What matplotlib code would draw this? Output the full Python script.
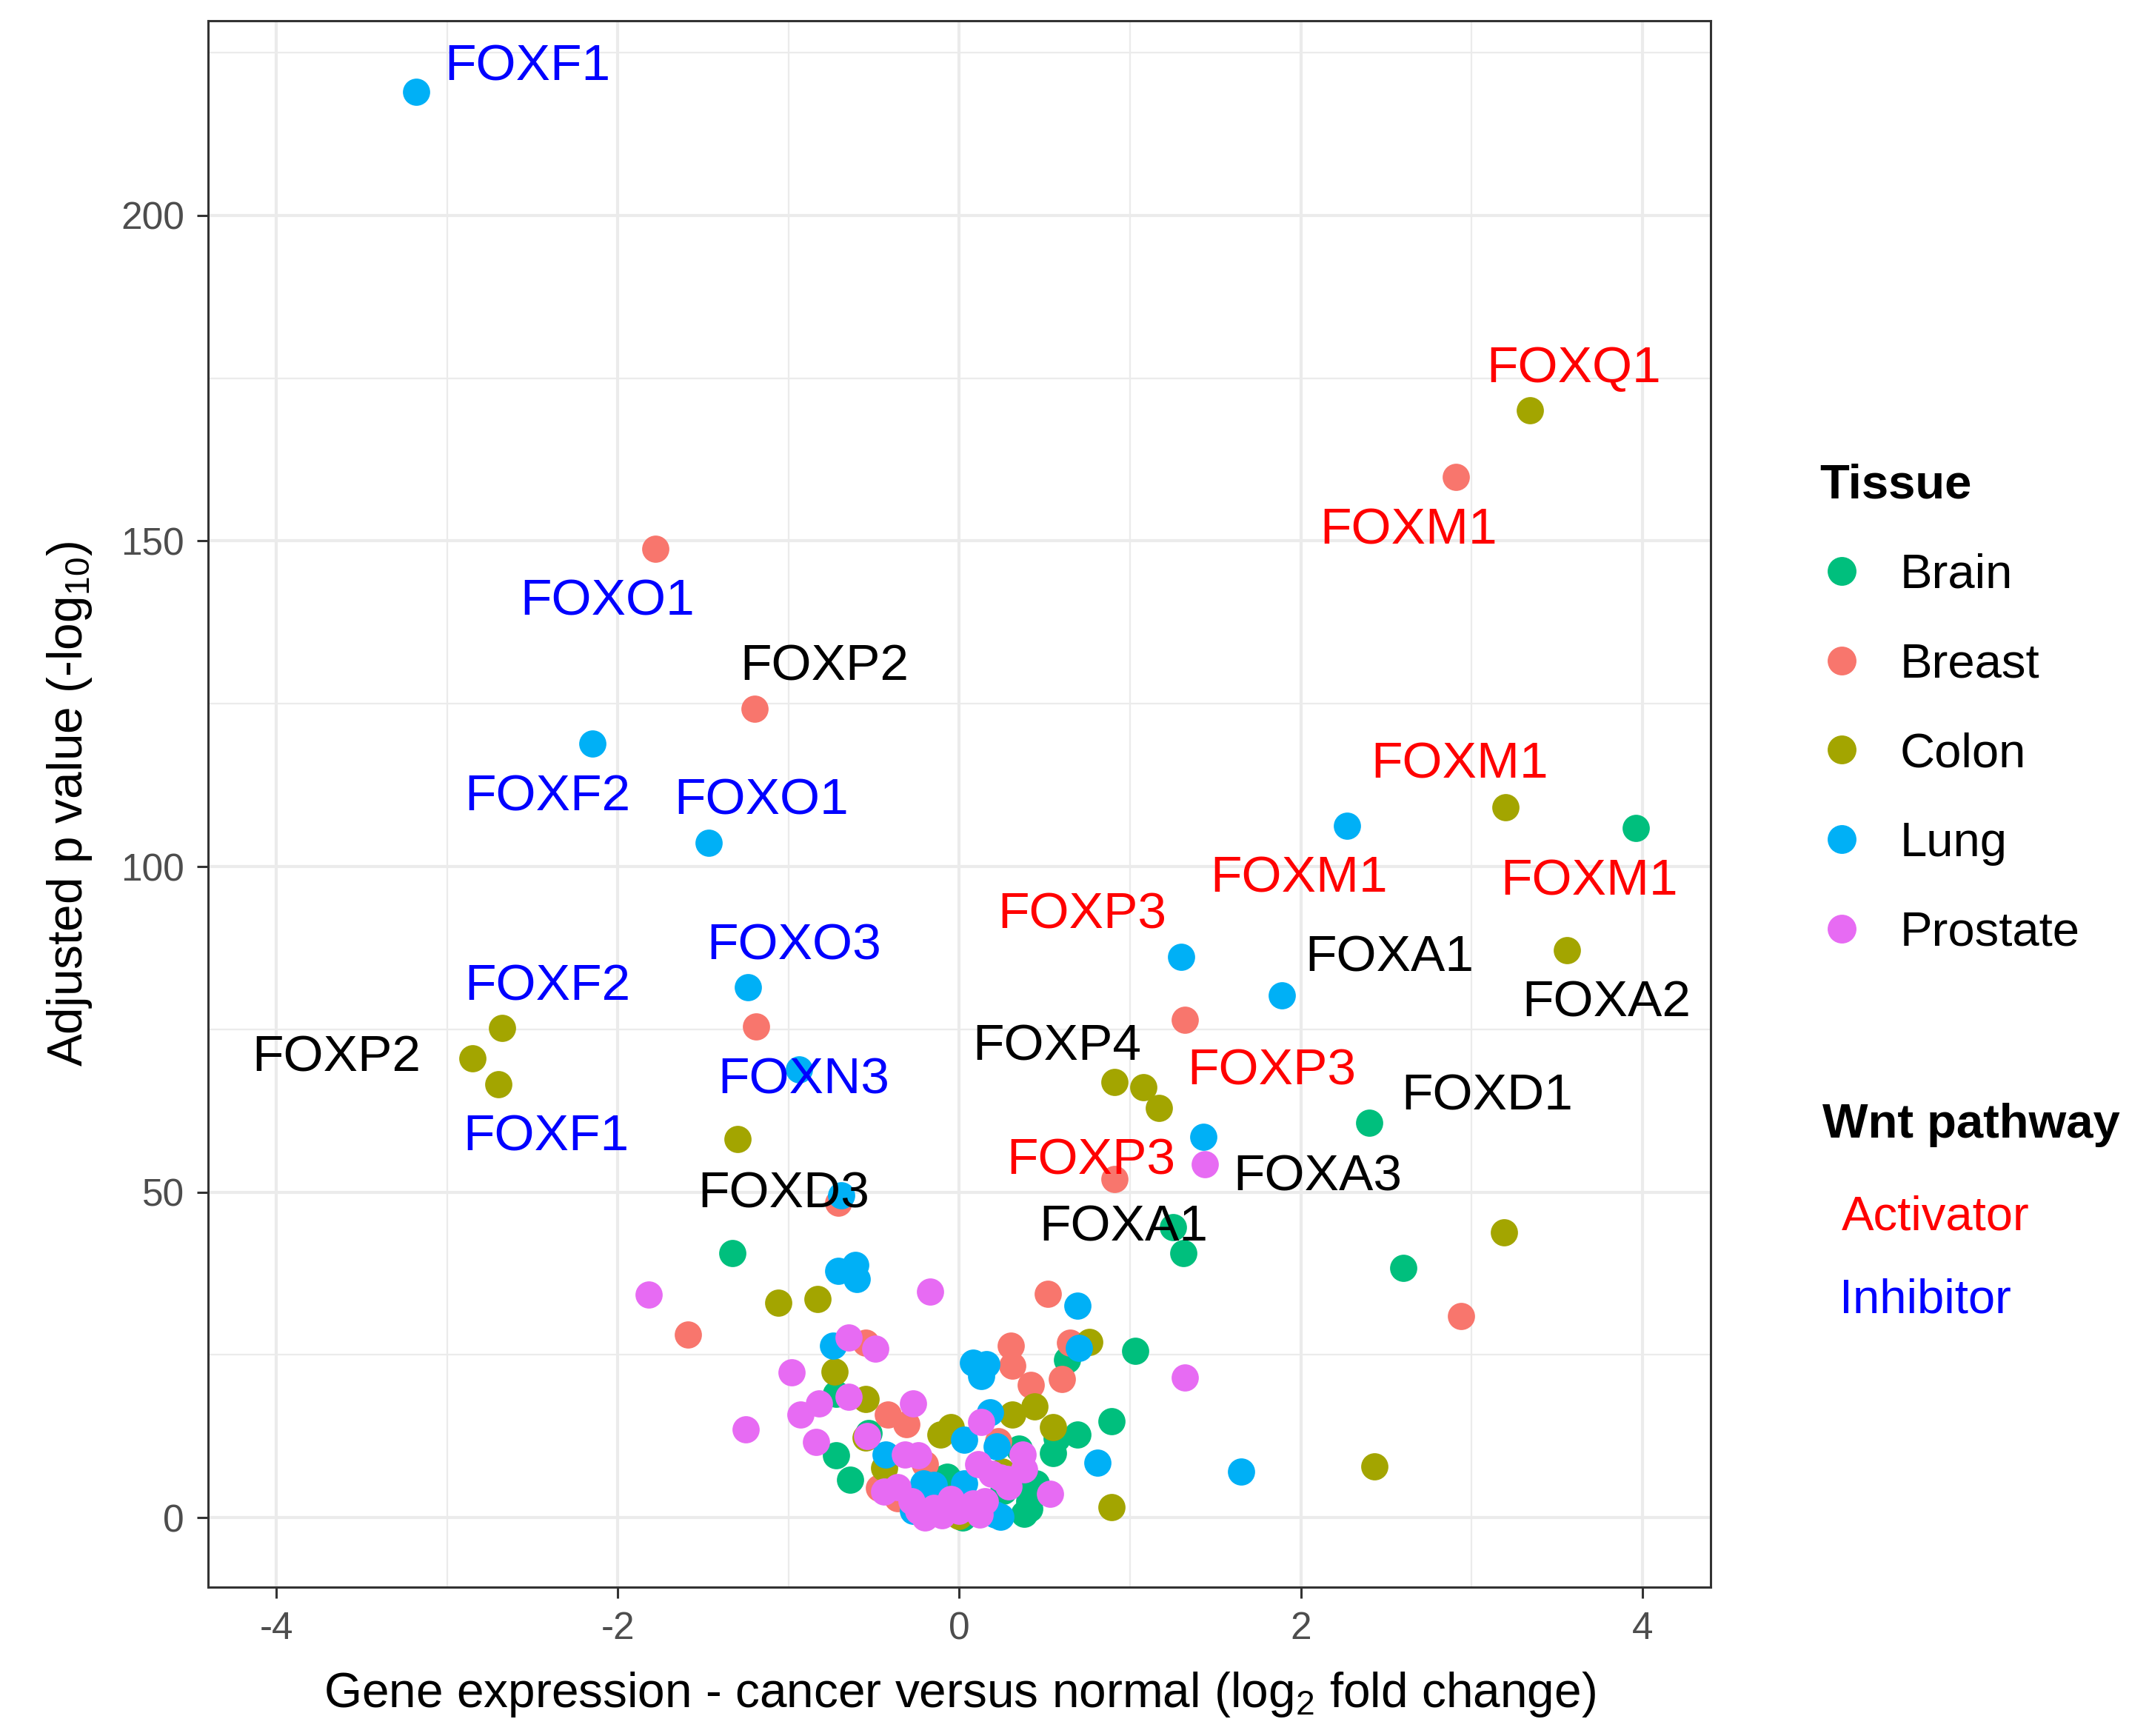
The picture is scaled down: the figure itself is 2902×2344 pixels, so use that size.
import numpy as np
import matplotlib
matplotlib.use("Agg")
import matplotlib.pyplot as plt
from matplotlib.lines import Line2D

plt.rcParams['font.family'] = ['Liberation Sans', 'DejaVu Sans']
plt.rcParams['mathtext.fontset'] = 'custom'
plt.rcParams['mathtext.rm'] = 'Liberation Sans'
plt.rcParams['mathtext.it'] = 'Liberation Sans:italic'
plt.rcParams['axes.unicode_minus'] = False

# log2 fold change / -log10 adjusted p, per tissue
brain_x = [2.40, 3.96, 2.60, 1.25, 1.31, -1.33, 1.03, 0.63, 0.89, 0.69, 0.57, 0.55, 0.41,
           0.42, 0.41, 0.38, 0.35, -0.72, -0.72, -0.64, -0.53, -0.09, -0.07, 0.02, 0.26, 0.45, 0.10]
brain_y = [60.6, 105.9, 38.3, 44.6, 40.6, 40.6, 25.6, 24.2, 14.8, 12.8, 12.2, 9.9, 1.4,
           5.2, 2.5, 0.6, 10.6, 19.0, 9.6, 5.8, 13.0, 6.0, 6.3, 0.0, 4.1, 5.2, 1.5]

breast_x = [-1.78, 2.91, -1.20, -1.19, 1.32, 0.91, -0.71, 2.94, -1.59, 0.52, 0.65, 0.60,
            0.30, 0.31, 0.42, 0.23, -0.55, -0.42, -0.31, -0.47, -0.36, -0.20]
breast_y = [148.8, 159.8, 124.2, 75.4, 76.4, 52.0, 48.4, 30.9, 28.1, 34.4, 26.8, 21.3,
            26.4, 23.3, 20.4, 11.7, 26.8, 15.8, 14.3, 4.6, 3.0, 8.2]

colon_x = [3.34, 3.20, 3.56, 0.91, 1.08, 1.17, -2.68, -2.85, -2.70, -1.30, 3.19, 2.43,
           0.89, -1.06, -0.83, 0.76, 0.44, 0.31, 0.55, -0.73, -0.55, -0.55, -0.11, -0.05,
           -0.44, 0.25, 0.00]
colon_y = [170.1, 109.1, 87.2, 66.9, 66.1, 62.9, 75.2, 70.5, 66.5, 58.1, 43.8, 7.8,
           1.6, 33.0, 33.6, 27.0, 17.1, 15.8, 13.9, 22.4, 18.2, 12.3, 12.8, 13.9,
           7.6, 7.1, 0.2]

lung_x = [-3.18, -2.15, -1.47, -1.24, -0.94, -0.69, 2.27, 1.30, 1.89, 1.43, 1.65, 0.81,
          0.69, 0.70, -0.71, -0.61, -0.60, -0.74, 0.08, 0.16, 0.13, 0.18, -0.43, -0.21,
          -0.27, 0.22, 0.03, -0.17, 0.03, 0.21, 0.24, -0.15, -0.05]
lung_y = [219.0, 118.9, 103.6, 81.5, 68.8, 49.5, 106.3, 86.1, 80.2, 58.5, 7.1, 8.4,
          32.5, 26.1, 37.9, 38.8, 36.6, 26.4, 23.8, 23.6, 21.7, 16.2, 9.7, 5.2,
          1.0, 10.9, 12.0, 4.8, 5.2, 0.5, 0.1, 5.0, 2.5]

prostate_x = [1.44, -1.82, -0.17, 1.32, -0.65, -0.49, -0.98, -0.65, -0.82, -0.93, -0.27,
              -1.25, -0.84, -0.54, -0.32, -0.24, -0.44, -0.36, -0.24, -0.20, 0.53, 0.37,
              0.38, 0.28, 0.19, 0.11, 0.13, 0.24, 0.29, -0.28, -0.15, -0.05, 0.00, 0.08,
              0.12, -0.10, 0.15]
prostate_y = [54.3, 34.3, 34.7, 21.5, 27.6, 25.9, 22.3, 18.5, 17.5, 15.8, 17.5,
              13.5, 11.6, 12.5, 9.7, 9.6, 4.0, 4.7, 1.0, 0.0, 3.7, 9.7,
              7.4, 5.9, 6.7, 8.2, 14.7, 6.1, 4.8, 2.5, 1.5, 2.8, 1.0, 2.2,
              0.5, 0.3, 2.5]

tissues = ["Brain", "Breast", "Colon", "Lung", "Prostate"]
tissue_colors = ["#00BF7D", "#F8766D", "#A3A500", "#00B0F6", "#E76BF3"]

# gene labels: name, x, y (text centre), Wnt role
gene_names = ["FOXF1", "FOXO1", "FOXP2", "FOXF2", "FOXO1", "FOXO3", "FOXF2", "FOXP2",
              "FOXN3", "FOXF1", "FOXD3", "FOXQ1", "FOXM1", "FOXM1", "FOXM1", "FOXM1",
              "FOXP3", "FOXA1", "FOXA2", "FOXP4", "FOXP3", "FOXD1", "FOXP3", "FOXA3", "FOXA1"]
gene_x = [-2.53, -2.06, -0.79, -2.41, -1.16, -0.97, -2.41, -3.65, -0.91, -2.42, -1.03,
          3.60, 2.63, 2.93, 1.99, 3.69, 0.72, 2.52, 3.79, 0.57, 1.83, 3.09, 0.77, 2.10, 0.96]
gene_y = [223.6, 141.5, 131.4, 111.4, 110.9, 88.6, 82.3, 71.4, 68.0, 59.2, 50.5,
          177.3, 152.4, 116.4, 98.9, 98.5, 93.3, 86.7, 79.8, 73.1, 69.3, 65.5, 55.6, 53.1, 45.3]
gene_role = ["Inhibitor", "Inhibitor", "none", "Inhibitor", "Inhibitor", "Inhibitor",
             "Inhibitor", "none", "Inhibitor", "Inhibitor", "none", "Activator", "Activator",
             "Activator", "Activator", "Activator", "Activator", "none", "none", "none",
             "Activator", "none", "Activator", "none", "none"]
role_colors = {"Activator": "#FF0000", "Inhibitor": "#0000FF", "none": "#000000"}

fig = plt.figure(figsize=(14.51, 11.72), dpi=200)
ax = fig.add_axes([0.0968, 0.0857, 0.796 - 0.0968, 0.988 - 0.0857])

series = [(brain_x, brain_y), (breast_x, breast_y), (colon_x, colon_y),
          (lung_x, lung_y), (prostate_x, prostate_y)]
for (xs, ys), name, col in zip(series, tissues, tissue_colors):
    ax.scatter(xs, ys, s=175, color=col, linewidths=0, label=name, zorder=3)

for name, x, y, role in zip(gene_names, gene_x, gene_y, gene_role):
    ax.text(x, y, name, color=role_colors[role], fontsize=25, ha="center",
            va="center_baseline", zorder=4)

ax.set_xlim(-4.4, 4.4)
ax.set_ylim(-10.7, 229.9)
ax.set_xticks([-4, -2, 0, 2, 4])
ax.set_xticks([-3, -1, 1, 3], minor=True)
ax.set_yticks([0, 50, 100, 150, 200])
ax.set_yticks([25, 75, 125, 175, 225], minor=True)
ax.grid(which="major", color="#EBEBEB", linewidth=1.5, zorder=0)
ax.grid(which="minor", color="#EBEBEB", linewidth=0.8, zorder=0)
ax.set_axisbelow(True)
ax.tick_params(which="major", length=5.5, width=1.1, color="#333333",
               labelsize=18.5, labelcolor="#4D4D4D", pad=6)
ax.tick_params(which="minor", length=0)
for sp in ax.spines.values():
    sp.set_color("#333333")
    sp.set_linewidth(1.1)

ax.set_xlabel(r"Gene expression - cancer versus normal (log$_\mathregular{2}$ fold change)",
              fontsize=23.7, labelpad=11)
ax.set_ylabel(r"Adjusted p value (-log$_\mathregular{10}$)", fontsize=23.7, labelpad=13)

handles = [Line2D([], [], marker="o", linestyle="", markersize=14, markerfacecolor=c,
                  markeredgewidth=0) for c in tissue_colors]
leg = ax.legend(handles, tissues, loc="upper left", bbox_to_anchor=(0.8266, 0.758),
                bbox_transform=fig.transFigure, frameon=False, fontsize=23.5,
                title="Tissue", title_fontproperties={"weight": "bold", "size": 23.5},
                alignment="left", labelspacing=0.93, handletextpad=0.75, handlelength=0.9)

fig.text(0.848, 0.352, "Wnt pathway", fontsize=23.5, fontweight="bold", va="center")
fig.text(0.857, 0.299, "Activator", fontsize=23.5, color="#FF0000", va="center")
fig.text(0.856, 0.251, "Inhibitor", fontsize=23.5, color="#0000FF", va="center")

fig.savefig("out.png", dpi=200)
